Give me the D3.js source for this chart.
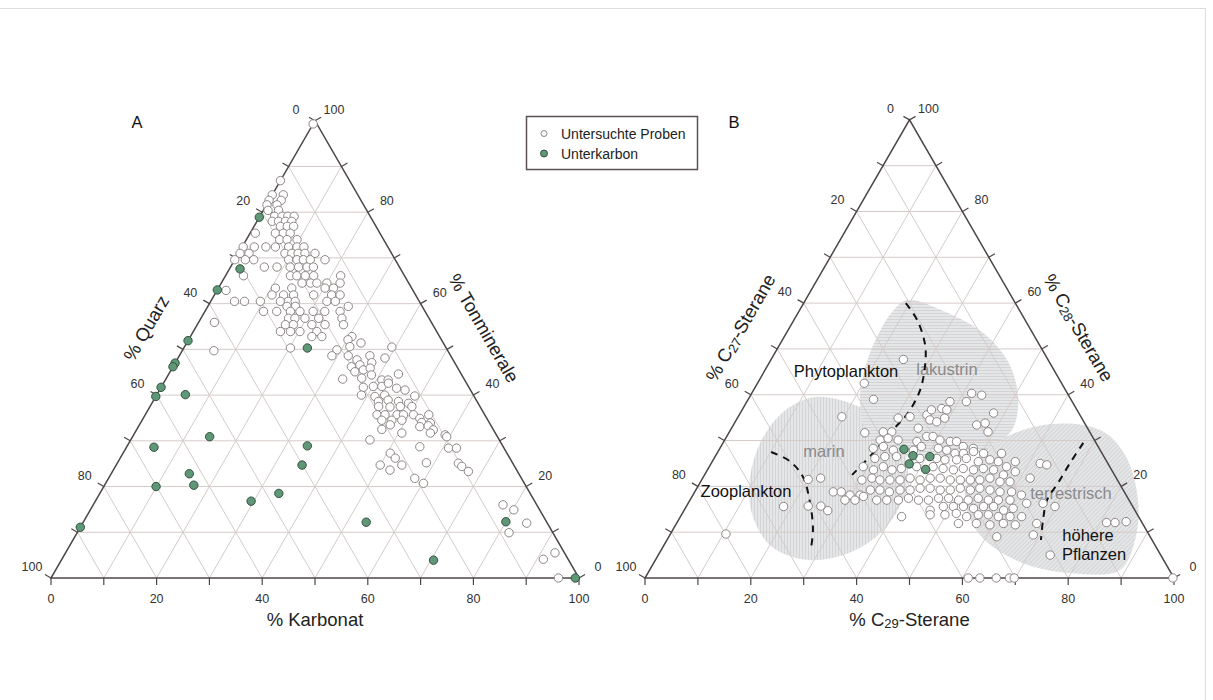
<!DOCTYPE html>
<html>
<head>
<meta charset="utf-8">
<script src="https://cdn.jsdelivr.net/npm/d3@7"></script>
<style>
  body { margin: 0; background: #fff; }
  svg { display: block; font-family: "Liberation Sans", Arial, Helvetica, sans-serif; }
</style>
</head>
<body>
<svg id="chart" width="1213" height="700"></svg>
<script>
// ---------------------------------------------------------------
// Panel A: Quarz – Karbonat – Tonminerale, values as [Karbonat, Tonminerale] in %
// (Quarz = 100 - Karbonat - Tonminerale)
// ---------------------------------------------------------------
const probenA = [
  [0,99.3],
  [0,86.9],[0,83.8],[2.1,83.8],[0,82.6],[2.3,82.6],[0.1,81.6],[2,81.6],[0.9,80.4],[2.9,80.4],
  [2.8,79.1],[4.2,79.1],[5.3,79.1],[6.5,79.1],
  [2.9,78],[4.1,78],[5.4,78],[6.6,78],
  [5,76.9],[6.3,76.9],[7.5,76.9],
  [1,75.4],[4.8,75.4],[6.3,75.4],[7.6,75.4],
  [6.3,74],[7.7,74],[9.6,74],
  [0.2,72.4],[2.3,72.4],[4.5,72.4],[6.3,72.4],[8.8,72.4],[10.4,72.4],[11.7,72.4],
  [0.3,71],[2,71],[8.8,71],[10.1,71],[11.3,71],[12.6,71],[14.5,71],
  [0,69.6],[2,69.6],[3.6,69.6],[10.2,69.6],[11.8,69.6],[13,69.6],[14.3,69.6],[17.1,69.6],
  [6.4,68],[8.8,68],[11.3,68],[12.9,68],[14.5,68],[15.7,68],
  [3.4,66.1],[12.3,66.1],[13.5,66.1],[15.1,66.1],[16.7,66.1],[21.8,66.1],
  [15.3,64.5],[16.9,64.5],[18.1,64.5],[20,64.5],[22.5,64.5],
  [10.8,63.4],[13.9,63.4],[20.2,63.4],[21.8,63.4],[1.7,62.9],
  [10.9,61.9],[13.1,61.9],[15,61.9],[18.8,61.9],[22.2,61.9],[23.8,61.9],
  [4.5,60.5],[6.4,60.5],[9.4,60.5],[13.2,60.5],[14.7,60.5],[16,60.5],[22,60.5],[23.6,60.5],
  [15,59.4],[16.6,59.4],[26.6,59.4],
  [11.1,58.3],[13.6,58.3],[16.2,58.3],[18,58.3],[20.5,58.3],[22.7,58.3],[25.6,58.3],
  [16.6,56.8],[17.8,56.8],[19.7,56.8],[22.3,56.8],[26.7,56.8],
  [3,55.9],[16.7,55.4],[18.2,55.4],[21.7,55.4],[24.2,55.4],[27.7,55.4],
  [16.5,53.9],[18.4,53.9],[20.2,53.9],[23.4,53.9],
  [23,52.8],[24.9,52.8],[30.6,52.8],
  [30.2,52.1],[33,51.4],[31.3,50.6],[20.2,50.3],[29.2,49.9],[39.3,50.5],[6,49.7],
  [28.9,48.6],[32,48.6],[34.1,47.7],[36.1,48.6],[39.2,48.1],
  [33.8,46.2],[35.2,46.6],[37.2,47.1],[43.5,44.6],[35,45.1],[36.4,45.5],[37.5,45.9],
  [33.5,43.5],[37,43.7],[38.5,44.4],[41,43.3],[42.2,43.3],
  [38.3,41.7],[40.1,41.9],[41.7,41.9],[42.6,42.6],[44.7,41.5],[46.5,41.1],
  [49,39.8],[38.8,40],[41.5,39.7],[43.2,40],
  [42.7,38.6],[44.4,38.9],[46.5,38.6],[48.6,38.2],
  [43.3,37.5],[45.5,37.4],[47.4,37.5],[49.6,37.5],
  [43.9,35.7],[45.4,35.7],[47.7,35.7],[48.9,35.7],[50.8,35.7],[52.4,34.9],[53.7,35.7],
  [45.4,34.5],[47.3,34.5],[49.2,34.5],[53.2,34],[54.9,33.9],
  [46.4,32.5],[47.5,33.5],[53.3,33.1],[54.8,33.3],[56.2,32.4],
  [50.6,31.7],[56,31.7],[59,31.3],
  [45.3,30.2],[59.5,30.9],
  [61.1,28.4],[62.6,28.4],[55.5,28.7],
  [50.6,27.3],[52.1,26.2],[54.1,24.7],[50,24.7],[52.4,23.6],[58.5,25.2],
  [64.6,25.1],[65.6,24.4],[67.4,23.3],
  [58,21.8],[60.2,20.7],
  [77.6,16],[80.2,14.9],[81.8,9.9],[84.1,12],[91.2,4.1],[92.7,5.5],[96.1,0]
];

const unterkarbonA = [
  [0,78.9],[2,67.6],[0,63],[0,51.9],[0,47],[0,46.2],[0,41.7],[0,39.7],[5.4,40.1],
  [23.4,50.3],[14.6,30.9],[5.2,28.6],[34.1,28.9],[35.2,24.7],[14.8,22.8],[16.9,20.3],
  [9.9,20],[33.9,18.5],[29.5,16.8],[0,11.1],[53.6,12.2],[70.5,3.9],[80,12.3],[99.3,0]
];

// ---------------------------------------------------------------
// Panel B: C27 – C29 – C28 steranes, values as [C29, C28] in %
// (C27 = 100 - C29 - C28)
// ---------------------------------------------------------------
const probenB = [
  [25,47.7],[20.2,42.5],[23.7,39],[20.1,21.5],[22.3,21.8],[23,15.7],[25.4,15.7],[27.2,14.7],
  [18.4,15.6],[10.5,9.6],
  [41.6,40.3],[43.7,39.9],[81.2,12.1],[82.8,12.1],[84.8,12.3],
  [61.1,0],[63.3,0],[66.4,0],[68.9,0],[69.8,0],[99.8,0],[68.1,11.9],
  [19.6,35.2],[30.4,34.9],[32.5,35.2],[35.5,35.6],[35.8,36.7],[37.6,37],[38.7,36.7],[38.4,38.5],[41.5,38.5],[47.9,36],
  [25.7,31.7],[29.1,31.9],[30.7,31.9],[35.3,32.7],[36.6,34.5],[38.1,34.1],[39.2,34.9],[46,33.4],[47.4,33.8],[48.9,31.9],
  [29.4,30.1],[30.7,30.5],[32.8,30.1],[36.5,29.8],[37.8,30.9],[39,30.9],[40.7,30.1],[42.8,29.8],[44,29.8],[45.8,28.7],[47.9,28.3],
  [29,28.3],[30.7,28.7],[33,27.9],[36.8,27.9],[37.9,28.7],[41.3,28.3],[43.1,27.9],[45,27.2],[46.6,27.2],[48.3,27.6],[50.4,27.2],[53.8,27.2],
  [30.4,26.1],[32.1,26.5],[34.3,26.5],[38.9,26.1],[42.1,26.1],[43.8,25.8],[46,25.8],[47.7,26.1],[50.3,25.4],[52.3,25.8],[54.1,25.4],[56.2,24.3],[57.3,25.4],[62.2,25],[63.6,24.7],
  [29.1,24.3],[31.4,23.6],[32.9,24.3],[34.9,23.6],[36.5,23.9],[39.2,24.3],[42.3,24.3],[44.4,23.9],[46.5,23.6],[48.2,23.9],[50.3,23.6],[52,23.9],[54.1,23.6],[56.5,22.5],[58.4,23.2],[61.9,21.8],
  [30.3,21.4],[32,21.8],[33.7,21.4],[35.6,21.4],[37.5,21.4],[39.2,21.8],[41.3,21.4],[43,21.8],[44.9,21.8],[47,21.4],[48.9,21.4],[50.8,21.4],[52.6,21.4],[54.3,21.8],[56.6,21],[58.5,21],
  [26.2,18.8],[27.7,18.8],[29.7,18.1],[31.6,18.1],[33,19.2],[34.8,19.2],[36.8,18.8],[38.6,19.2],[40.5,19.2],[42.2,19.6],[44.1,19.6],[46.2,19.2],[48.1,19.2],[49.8,19.6],[51.9,19.2],[53.5,19.6],[55.6,19.2],[57.7,18.8],[59.9,18.8],[62.1,18.1],
  [29.3,17],[31.2,17],[32.4,17.8],[35.3,17],[37.2,17],[39.4,17],[41.1,17.4],[43.2,17],[45.1,17],[46.8,17.4],[48.7,17.4],[50.8,17],[52.6,17],[54.3,17.4],[56.4,17],[58.3,17],[60.5,17],[64,16.3],[67.1,16.3],[69.7,15.6],
  [46.5,14.8],[48.6,15.6],[50.5,15.6],[52.4,15.6],[54.5,15.2],[56.2,15.6],[58.1,15.6],[60.4,14.8],[62,15.2],
  [41.8,13.4],[47,13.8],[49.8,13.8],[51.8,14.1],[54.1,13.4],[56.1,13.8],[58,13.8],[60.1,13.4],[62.3,13.4],[64.5,13.4],
  [53.3,11.9],[56.7,11.9],[59.4,11.6],[61.8,11.9],[64.2,11.6],[68.7,9.4],[62,9],[74.1,5]
];

const unterkarbonB = [
  [34.9,28.1],[37.3,26.7],[40.6,26.5],[37.5,24.9],[41.2,23.7]
];

// Source fields in panel B, outlines as [C29, C28]
const feldMarin = [
  [12.4,39.5],[22,37.3],[31.3,31.9],[37.9,23.6],[40.4,13.8],[37.4,6.6],[29.2,3.9],
  [20,7.2],[11.9,15.9],[7.4,26.9],[7.7,35.6]
];
const feldLakustrin = [
  [19.2,60.7],[27.7,58.1],[37.8,53.1],[45.7,46.5],[51.1,38.9],[53.2,32.3],[50.3,27.9],
  [43.6,26.2],[34.8,26.9],[26.5,31.2],[21.2,38.9],[18.5,46.5],[17.5,53.1],[17.7,58.1]
];
const feldTerrestrisch = [
  [52,30.1],[59.8,33.6],[69.9,32.3],[77.3,26.9],[84.7,17],[88.5,8.3],[88.9,1.7],
  [79.8,1.1],[69.1,3.5],[58.6,9.4],[52,17],[49.7,25.3]
];

// Dashed boundaries between organic sources, [C29, C28]
const grenzePhytoplankton = [
  [19.3,60],[23.3,56.3],[27.5,50.9],[29.7,46.5],[31.5,41],[31.7,36],[30.7,32.3],[29.5,27.3],[27.9,22.5]
];
const grenzeZooplankton = [
  [10.1,27.5],[14.6,25.5],[18.8,22.1],[23,16.4],[26.5,10.5],[28.2,6.3]
];
const grenzePflanzen = [
  [68.1,29.5],[67.8,25.1],[67.7,20.7],[67.5,17],[68.9,12.7],[70.7,8.3]
];

// Axis ticks
const tickSteps = [0,10,20,30,40,50,60,70,80,90,100];
const tickLabels = [0,20,40,60,80,100];
const gridSteps = [10,20,30,40,50,60,70,80,90];

// ---------------------------------------------------------------
const svg = d3.select("#chart");

// thin frame along the top and right of the figure
svg.append("rect").attr("x", -2).attr("y", 8.5).attr("width", 1207.5).attr("height", 700)
  .attr("fill", "none").attr("stroke", "#dedede").attr("stroke-width", 1);

const defs = svg.append("defs");
function hatch(id, angle) {
  const p = defs.append("pattern")
    .attr("id", id)
    .attr("patternUnits", "userSpaceOnUse")
    .attr("width", 3).attr("height", 3)
    .attr("patternTransform", `rotate(${angle})`);
  p.append("rect").attr("width", 3).attr("height", 3).attr("fill", "#e5e6e8");
  p.append("line").attr("x1", 1.5).attr("y1", 0).attr("x2", 1.5).attr("y2", 3)
    .attr("stroke", "#d3d4d6").attr("stroke-width", 1);
}
hatch("hatchMarin", 0);
hatch("hatchLakustrin", 90);
hatch("hatchTerrestrisch", 45);

function ternary(x0, base, width) {
  const height = width * Math.sqrt(3) / 2;
  const sx = d3.scaleLinear().domain([0, 100]).range([x0, x0 + width]);
  const sy = d3.scaleLinear().domain([0, 100]).range([base, base - height]);
  // r = component at the bottom-right corner, t = component at the top corner
  const pt = (r, t) => [sx(r + t / 2), sy(t)];
  return { sx, sy, pt, height };
}

const COS30 = Math.cos(Math.PI / 6), SIN30 = 0.5;

function drawFrame(g, T) {
  const { pt } = T;
  const grid = g.append("g").attr("stroke", "#d4cbc9").attr("stroke-width", 1).attr("fill", "none");
  gridSteps.forEach(v => {
    const lines = [
      [pt(0, v), pt(100 - v, v)],          // constant top component
      [pt(v, 0), pt(v, 100 - v)],          // constant right component
      [pt(100 - v, 0), pt(0, 100 - v)]     // constant left component
    ];
    lines.forEach(([a, b]) => grid.append("line")
      .attr("x1", a[0]).attr("y1", a[1]).attr("x2", b[0]).attr("y2", b[1]));
  });
}

function drawAxes(g, T, titles) {
  const { pt } = T;
  const ink = "#4e4646";
  g.append("path")
    .attr("d", d3.line()([pt(0, 0), pt(100, 0), pt(0, 100)]) + "Z")
    .attr("fill", "none").attr("stroke", ink).attr("stroke-width", 1.5)
    .attr("stroke-linejoin", "miter");

  const sides = [
    // left side: left component, 0 at top → 100 at bottom-left
    { at: v => pt(0, 100 - v), n: [-COS30, -SIN30], off: 22 },
    // right side: top component, 0 at bottom-right → 100 at top
    { at: v => pt(100 - v, v), n: [COS30, -SIN30], off: 22 },
    // base: right component, 0 at left → 100 at right
    { at: v => pt(v, 0), n: [0, 1], off: 21 }
  ];
  const tickLen = 7;
  sides.forEach(s => {
    tickSteps.forEach(v => {
      const p = s.at(v);
      g.append("line")
        .attr("x1", p[0]).attr("y1", p[1])
        .attr("x2", p[0] + s.n[0] * tickLen).attr("y2", p[1] + s.n[1] * tickLen)
        .attr("stroke", ink).attr("stroke-width", 1.2);
    });
    tickLabels.forEach(v => {
      const p = s.at(v);
      g.append("text")
        .attr("x", p[0] + s.n[0] * s.off)
        .attr("y", p[1] + s.n[1] * s.off)
        .attr("text-anchor", "middle").attr("dominant-baseline", "central")
        .attr("font-size", 12.5).attr("fill", "#333")
        .text(v);
    });
  });

  // axis titles
  const off = 43;
  const left = [(pt(0, 0)[0] + pt(0, 100)[0]) / 2, (pt(0, 0)[1] + pt(0, 100)[1]) / 2];
  const right = [(pt(100, 0)[0] + pt(0, 100)[0]) / 2, (pt(100, 0)[1] + pt(0, 100)[1]) / 2];
  const bottom = [(pt(0, 0)[0] + pt(100, 0)[0]) / 2, pt(0, 0)[1]];
  const placements = [
    { c: [left[0] - COS30 * off, left[1] - SIN30 * off], rot: -60, parts: titles.left },
    { c: [right[0] + COS30 * off, right[1] - SIN30 * off], rot: 60, parts: titles.right },
    { c: [bottom[0], bottom[1] + 41], rot: 0, parts: titles.bottom }
  ];
  placements.forEach(pl => {
    const t = g.append("text")
      .attr("transform", `translate(${pl.c[0]},${pl.c[1]}) rotate(${pl.rot})`)
      .attr("text-anchor", "middle").attr("dominant-baseline", "central")
      .attr("font-size", 18.5).attr("fill", "#222");
    pl.parts.forEach(part => {
      const ts = t.append("tspan").text(part.s);
      if (part.sub) ts.attr("font-size", 13).attr("dy", 4);
      if (part.up) ts.attr("dy", -4);
    });
  });
}

function drawPoints(g, T, data, style) {
  g.append("g").selectAll("circle").data(data).join("circle")
    .attr("cx", d => T.pt(d[0], d[1])[0])
    .attr("cy", d => T.pt(d[0], d[1])[1])
    .attr("r", 4.2)
    .attr("fill", style.fill).attr("stroke", style.stroke).attr("stroke-width", 1);
}

const openStyle = { fill: "#ffffff", stroke: "#8d8585" };
const greenStyle = { fill: "#5f9877", stroke: "#34503f" };

// ---------------- Panel A ----------------
const TA = ternary(51, 578, 528);
const gA = svg.append("g");
drawFrame(gA, TA);
drawAxes(gA, TA, {
  left: [{ s: "% Quarz" }],
  right: [{ s: "% Tonminerale" }],
  bottom: [{ s: "% Karbonat" }]
});
drawPoints(gA, TA, probenA, openStyle);
drawPoints(gA, TA, unterkarbonA, greenStyle);
gA.append("text").attr("x", 137).attr("y", 128).attr("text-anchor", "middle")
  .attr("font-size", 16.5).attr("fill", "#111").text("A");

// ---------------- Panel B ----------------
const TB = ternary(645, 578, 529);
const gB = svg.append("g");
const areaLine = d3.line()
  .x(d => TB.pt(d[0], d[1])[0]).y(d => TB.pt(d[0], d[1])[1])
  .curve(d3.curveCatmullRomClosed.alpha(0.5));
gB.append("path").attr("d", areaLine(feldMarin)).attr("fill", "url(#hatchMarin)");
gB.append("path").attr("d", areaLine(feldLakustrin)).attr("fill", "url(#hatchLakustrin)");
gB.append("path").attr("d", areaLine(feldTerrestrisch)).attr("fill", "url(#hatchTerrestrisch)");
drawFrame(gB, TB);

const grayLabels = [
  { s: "marin", x: 824, y: 457 },
  { s: "lakustrin", x: 947, y: 375 },
  { s: "terrestrisch", x: 1071, y: 499 }
];
gB.selectAll("text.feld").data(grayLabels).join("text")
  .attr("class", "feld")
  .attr("x", d => d.x).attr("y", d => d.y).attr("text-anchor", "middle")
  .attr("font-size", 16.5).attr("fill", "#8a8a8a").text(d => d.s);

const dashLine = d3.line()
  .x(d => TB.pt(d[0], d[1])[0]).y(d => TB.pt(d[0], d[1])[1])
  .curve(d3.curveCatmullRom.alpha(0.5));
[grenzePhytoplankton, grenzeZooplankton, grenzePflanzen].forEach(l => {
  gB.append("path").attr("d", dashLine(l))
    .attr("fill", "none").attr("stroke", "#111").attr("stroke-width", 2)
    .attr("stroke-dasharray", "7,6");
});

drawAxes(gB, TB, {
  left: [{ s: "% C" }, { s: "27", sub: true }, { s: "-Sterane", up: true }],
  right: [{ s: "% C" }, { s: "28", sub: true }, { s: "-Sterane", up: true }],
  bottom: [{ s: "% C" }, { s: "29", sub: true }, { s: "-Sterane", up: true }]
});
drawPoints(gB, TB, probenB, openStyle);
drawPoints(gB, TB, unterkarbonB, greenStyle);

const blackLabels = [
  { s: "Phytoplankton", x: 846, y: 377 },
  { s: "Zooplankton", x: 746, y: 497 },
  { s: "höhere", x: 1088, y: 541 },
  { s: "Pflanzen", x: 1094, y: 560 }
];
gB.selectAll("text.quelle").data(blackLabels).join("text")
  .attr("class", "quelle")
  .attr("x", d => d.x).attr("y", d => d.y).attr("text-anchor", "middle")
  .attr("font-size", 16.5).attr("fill", "#111").text(d => d.s);

gB.append("text").attr("x", 734).attr("y", 128).attr("text-anchor", "middle")
  .attr("font-size", 16.5).attr("fill", "#111").text("B");

// ---------------- Legend ----------------
const leg = svg.append("g");
leg.append("rect").attr("x", 526.5).attr("y", 116.5).attr("width", 171).attr("height", 53)
  .attr("fill", "#fff").attr("stroke", "#5a5252").attr("stroke-width", 1.5);
const legendItems = [
  { s: "Untersuchte Proben", style: openStyle, r: 3 },
  { s: "Unterkarbon", style: greenStyle, r: 3.5 }
];
legendItems.forEach((it, i) => {
  const y = 133.5 + i * 20;
  leg.append("circle").attr("cx", 544).attr("cy", y).attr("r", it.r)
    .attr("fill", it.style.fill).attr("stroke", it.style.stroke);
  leg.append("text").attr("x", 561).attr("y", y).attr("dominant-baseline", "central")
    .attr("font-size", 14).attr("fill", "#222").text(it.s);
});
</script>
</body>
</html>
